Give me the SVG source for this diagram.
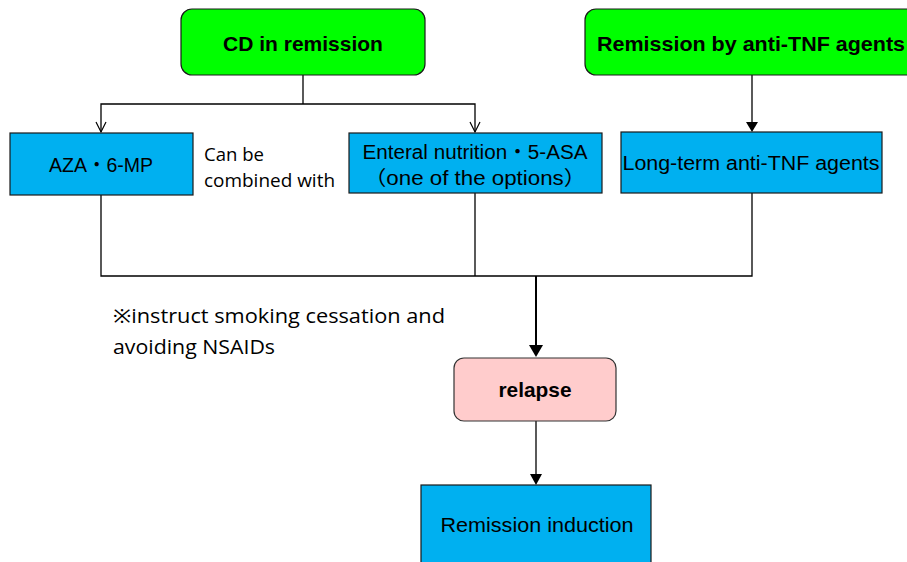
<svg xmlns="http://www.w3.org/2000/svg" width="907" height="562" viewBox="0 0 907 562">
<defs>
<style>
.bg{fill:#ffffff}
.green{fill:#00ff00;stroke:#1a1a1a;stroke-width:1.2}
.blue{fill:#00b0f0;stroke:#1a1a1a;stroke-width:1.2}
.pink{fill:#ffcccc;stroke:#333333;stroke-width:1.2}
.bt{font-family:"Liberation Sans",Arial,"Noto Sans CJK JP",sans-serif;font-size:21px;font-weight:bold;fill:#000;text-anchor:middle}
.nt{font-family:"Liberation Sans",Arial,"Noto Sans CJK JP",sans-serif;font-size:20px;fill:#000;text-anchor:middle}
.ct{font-family:"Open Sans","Noto Sans","Noto Sans CJK JP",sans-serif;font-size:18px;fill:#000}
.ln{fill:none;stroke:#000;stroke-width:1.3}
.thick{fill:none;stroke:#000;stroke-width:2}
.vhead{fill:none;stroke:#000;stroke-width:1.2}
</style>
</defs>
<rect class="bg" x="0" y="0" width="907" height="562"/>

<g id="connectors">
<polyline class="ln" points="303,75 303,104"/>
<polyline class="ln" points="101,132 101,104 475,104 475,132"/>
<polyline class="vhead" points="96,122 101,132 106,122"/>
<polyline class="vhead" points="470,122 475,132 480,122"/>
<path d="M752,75 L752,122" class="ln"/>
<polygon points="746,122 758,122 752,132" fill="#000"/>
<polyline class="ln" points="101,195 101,276 752,276 752,193"/>
<polyline class="ln" points="475,193 475,276"/>
<path d="M536,276 L536,346" class="thick"/>
<polygon points="529,345 543,345 536,357" fill="#000"/>
<path d="M536,421 L536,474" class="ln"/>
<polygon points="530,474 542,474 536,485" fill="#000"/>
</g>

<g id="cd-remission">
<rect class="green" x="181" y="9" width="244" height="66" rx="11"/>
<text class="bt" x="303" y="51">CD in remission</text>
</g>

<g id="remission-anti-tnf">
<rect class="green" x="585" y="9" width="334" height="66" rx="11"/>
<text class="bt" x="751" y="51" textLength="308" lengthAdjust="spacingAndGlyphs">Remission by anti-TNF agents</text>
</g>

<g id="aza">
<rect class="blue" x="10" y="133" width="183" height="62"/>
<text class="nt" x="101" y="172" textLength="104" lengthAdjust="spacingAndGlyphs">AZA・6-MP</text>
</g>

<g id="combined-note">
<text class="ct" x="204" y="161" textLength="60" lengthAdjust="spacingAndGlyphs">Can be</text>
<text class="ct" x="204" y="187" textLength="131" lengthAdjust="spacingAndGlyphs">combined with</text>
</g>

<g id="enteral">
<rect class="blue" x="349" y="133" width="253" height="60"/>
<text class="nt" x="475" y="159" textLength="225" lengthAdjust="spacingAndGlyphs">Enteral nutrition・5-ASA</text>
<text class="nt" x="475" y="185" textLength="222" lengthAdjust="spacingAndGlyphs">（one of the options）</text>
</g>

<g id="long-term">
<rect class="blue" x="621" y="132" width="261" height="61"/>
<text class="nt" x="751" y="170" textLength="257" lengthAdjust="spacingAndGlyphs">Long-term anti-TNF agents</text>
</g>

<g id="footnote">
<text class="ct" x="113" y="323" style="font-size:20px" textLength="332" lengthAdjust="spacingAndGlyphs">※instruct smoking cessation and</text>
<text class="ct" x="113" y="354" style="font-size:20px" textLength="162" lengthAdjust="spacingAndGlyphs">avoiding NSAIDs</text>
</g>

<g id="relapse">
<rect class="pink" x="454" y="358" width="162" height="63" rx="10"/>
<text class="bt" x="535" y="397" textLength="73" lengthAdjust="spacingAndGlyphs">relapse</text>
</g>

<g id="remission-induction">
<rect class="blue" x="421" y="485" width="230" height="82"/>
<text class="nt" x="537" y="532" textLength="193" lengthAdjust="spacingAndGlyphs">Remission induction</text>
</g>
</svg>
